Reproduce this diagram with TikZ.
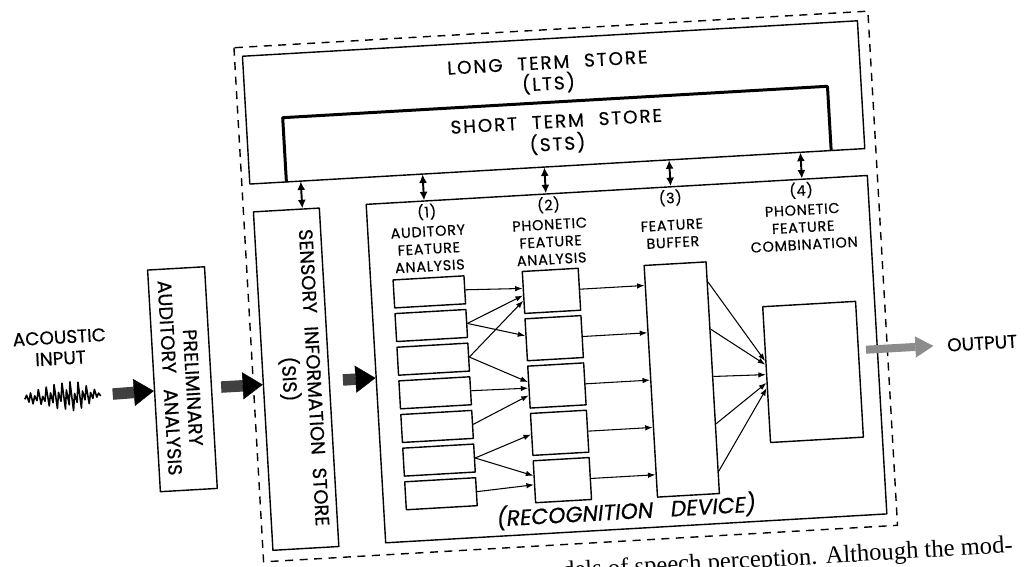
\documentclass[tikz,border=0pt]{standalone}
\usepackage{fontspec}
\setmainfont{Poppins}[FakeBold=0.4]
\newfontfamily\captionserif{Liberation Serif}
\usetikzlibrary{arrows.meta,calc}

\newcommand{\wgap}{\hspace{0.8em}}

\begin{document}
\begin{tikzpicture}[
  x=0.2mm,
  y=-0.2mm,
  line join=round,
  box/.style={draw,line width=0.8pt,inner sep=0pt},
  stsedge/.style={line width=1.7pt},
  outerframe/.style={draw,line width=0.8pt,dash pattern=on 1.6mm off 1.3mm},
  cell/.style={box,minimum width=14.2mm,minimum height=5.6mm},
  phon/.style={box,minimum width=11.2mm,minimum height=8.4mm},
  feed/.style={line width=0.6pt,-{Latex[length=1.5mm,width=1.1mm]}},
  stlink/.style={line width=1.1pt,{Latex[length=1.7mm,width=1.6mm]}-{Latex[length=1.7mm,width=1.6mm]}},
  bigflow/.style={draw=black!75,line width=2.3mm,-{Triangle[length=4mm,width=5.4mm,line width=0.2pt,color=black]}},
  outflow/.style={draw=black!45,line width=1.6mm,-{Triangle[length=3.6mm,width=4.2mm,line width=0.4pt,color=black!45]}},
  colhead/.style={font=\fontsize{8.2}{9.9}\selectfont\addfontfeatures{LetterSpace=5},align=center,inner sep=0pt},
  storetext/.style={font=\fontsize{10.5}{12}\selectfont\addfontfeatures{LetterSpace=10},align=center,inner sep=0pt},
  sidetext/.style={font=\fontsize{11}{14}\selectfont,align=center,inner sep=0pt,rotate=-90},
  plaintext/.style={font=\fontsize{10.5}{12}\selectfont,align=center,inner sep=0pt}
]
  \path[fill=white,use as bounding box] (0,0) rectangle (1028,567);

  \begin{scope}[rotate around={3.3:(514,284)},transform shape]
  % Memory stores and the dashed system boundary.
  \draw[outerframe] (248,32) rectangle (883,547);
  \node[box,minimum width=123.2mm,minimum height=25.6mm] (lts) at (564,105) {};
  \node[storetext] (ltslabel) at (560,77) {LONG\wgap TERM\wgap STORE\\(LTS)};
  \node[storetext,font=\fontsize{10.5}{12.9}\selectfont\addfontfeatures{LetterSpace=10},minimum width=109mm,minimum height=12.8mm] (sts) at (565.5,137)
    {SHORT\wgap TERM\wgap STORE\\(STS)};
  \draw[stsedge] (sts.south west) -- (sts.north west) -- (sts.north east) -- (sts.south east);

  % Input side.
  \node[plaintext] (acoustic) at (57,321.5) {ACOUSTIC\\INPUT};
  \draw[line width=0.9pt] plot coordinates {(19,371) (21,367) (23,374) (25,365) (27,376) (29,368)
    (31,373) (33,362) (35,377) (37,369) (39,374) (41,360) (43,379) (45,366) (47,376) (49,358)
    (51,382) (53,366) (55,375) (57,357) (59,383) (61,364) (63,379) (65,356) (67,385) (69,368)
    (71,377) (73,357) (75,383) (77,366) (79,375) (81,361) (83,379) (85,368) (87,374) (89,365)
    (91,373) (93,369) (95,372)};
  \coordinate (wave) at (96,371);

  \node[box,minimum width=11.4mm,minimum height=44.4mm] (prelim) at (177.5,360) {};
  \node[sidetext,font=\fontsize{11}{12.8}\selectfont] (prelimtop) at (187.5,369) {PRELIMINARY};
  \node[sidetext,font=\fontsize{11}{12.8}\selectfont] (prelimlow) at (165,358) {AUDITORY\wgap ANALYSIS};
  \node[box,minimum width=13.2mm,minimum height=67.8mm] (sis) at (291,366.5) {};
  \node[sidetext] (sislabel) at (295,366)
    {SENSORY\hspace{0.4em} INFORMATION\hspace{0.4em} STORE\\(SIS)};

  % Recognition device.
  \node[box,minimum width=100.4mm,minimum height=67.8mm] (recog) at (622,365.5) {};
  \node[font=\fontsize{12.5}{14}\selectfont\itshape,inner sep=0pt] (recoglabel) at (613,517)
    {(RECOGNITION\wgap DEVICE)};

  \foreach \x/\n in {431/1,553/2,675/3,806/4} {
    \node[colhead] (num\n) at (\x,207) {(\n)};
  }
  \node[colhead] (head1) at (431,244) {AUDITORY\\FEATURE\\ANALYSIS};
  \node[colhead] (head2) at (553,244) {PHONETIC\\FEATURE\\ANALYSIS};
  \node[colhead] (head3) at (675,243) {FEATURE\\BUFFER};
  \node[colhead] (head4) at (806,244) {PHONETIC\\FEATURE\\COMBINATION};

  \foreach \i in {1,...,7} {
    \node[cell] (a\i) at (429,{287+33.7*(\i-1)}) {};
  }
  \foreach \i in {1,...,5} {
    \node[phon] (b\i) at (551,{293+47.4*(\i-1)}) {};
  }
  \node[box,minimum width=12.4mm,minimum height=46.4mm] (buf) at (676,389) {};
  \node[box,minimum width=18.6mm,minimum height=27.2mm] (comb) at (807.5,389) {};

  % Auditory to phonetic feature paths.
  \foreach \s/\t in {a1/b1.172,a2/b1.186,a2/b2.172,a3/b1.196,a3/b3.170,
                     a4/b3.182,a5/b3.196,a6/b4.180,a6/b5.168,a7/b5.186} {
    \draw[feed] (\s.east) -- (\t);
  }
  \foreach \i in {1,...,5} {
    \draw[feed] (b\i.east) -- ($(buf.north west)!(b\i.east)!(buf.south west)$);
  }
  \foreach \i/\a in {1/164,2/168,3/180,4/190,5/196} {
    \draw[feed] ($(buf.north east)!(b\i.east)!(buf.south east)$) -- (comb.\a);
  }

  % Two-way traffic with the short term store.
  \foreach \n in {a1,b1,buf,comb} {
    \draw[stlink] ($(sts.south west)!(\n.center)!(sts.south east)$)
      -- ($(recog.north west)!(\n.center)!(recog.north east)$);
  }
  \coordinate (sistap) at (307,366);
  \draw[stlink] ($(sts.south west)!(sistap)!(sts.south east)$)
    -- ($(sis.north west)!(sistap)!(sis.north east)$);

  % Main signal flow.
  \node[plaintext] (output) at (978,370) {OUTPUT};
  \draw[bigflow,shorten <=2.2mm] (wave) -- (prelim.199);
  \draw[bigflow,shorten <=1.8mm] (prelim.-19) -- (sis.186);
  \draw[bigflow,shorten <=2.6mm] (sis.-6) -- (recog.181);
  \draw[outflow,shorten <=-2.4mm,shorten >=2.7mm] (recog.-1) -- (output.west);

  \node[anchor=base east,inner sep=0pt,font=\captionserif\fontsize{14}{16}\selectfont] (caption)
    at (997,581) {models of speech perception. Although the mod-};
  \end{scope}
\end{tikzpicture}
\end{document}
